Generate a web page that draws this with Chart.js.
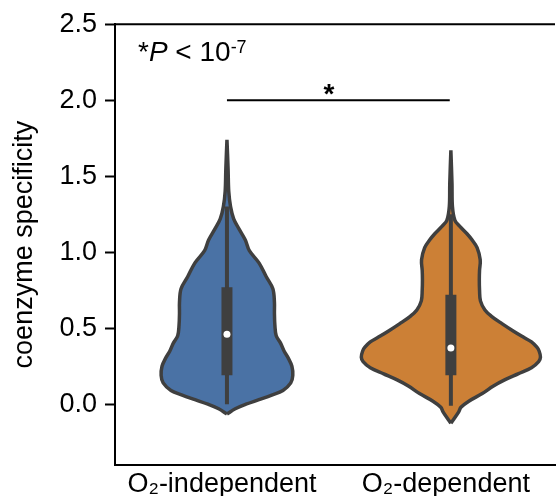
<!DOCTYPE html>
<html><head><meta charset="utf-8">
<script src="https://cdn.jsdelivr.net/npm/chart.js@4.4.0/dist/chart.umd.min.js"></script>
<style>html,body{margin:0;padding:0;background:#fff;overflow:hidden}#wrap{width:559px;height:496px;position:relative}</style>
</head><body><div id="wrap"><canvas id="c" width="559" height="496"></canvas></div>
<script>
// ---- data ----
const categories = ['O\u2082-independent', 'O\u2082-dependent'];
const yTickValues = [0.0, 0.5, 1.0, 1.5, 2.0, 2.5];

// violin outline: value levels and half-widths (in category units)
const indepLevels     = [-0.065, -0.03, 0.00, 0.03, 0.06, 0.09, 0.14, 0.19, 0.25, 0.30, 0.35, 0.40, 0.45, 0.52, 0.60, 0.67, 0.76, 0.84, 0.93, 1.01, 1.08, 1.15, 1.22, 1.30, 1.40, 1.55, 1.74];
const indepHalfWidths = [0.000, 0.037, 0.085, 0.143, 0.200, 0.250, 0.285, 0.294, 0.290, 0.275, 0.255, 0.240, 0.220, 0.214, 0.212, 0.212, 0.205, 0.175, 0.143, 0.100, 0.082, 0.055, 0.030, 0.016, 0.008, 0.005, 0.000];

const depLevels     = [-0.125, -0.10, -0.05, -0.02, 0.02, 0.07, 0.12, 0.16, 0.20, 0.24, 0.28, 0.31, 0.35, 0.375, 0.41, 0.44, 0.48, 0.53, 0.58, 0.62, 0.68, 0.75, 0.82, 0.88, 0.95, 1.03, 1.08, 1.12, 1.17, 1.21, 1.30, 1.45, 1.67];
const depHalfWidths = [0.000, 0.012, 0.035, 0.045, 0.080, 0.140, 0.190, 0.240, 0.300, 0.360, 0.392, 0.400, 0.394, 0.384, 0.360, 0.325, 0.280, 0.228, 0.180, 0.152, 0.132, 0.128, 0.127, 0.128, 0.131, 0.117, 0.095, 0.073, 0.040, 0.018, 0.007, 0.005, 0.000];

// inner box stats: [whisker low, Q1, median, Q3, whisker high]
const indepBox = [0.00, 0.19, 0.46, 0.77, 1.30];
const depBox   = [-0.01, 0.19, 0.37, 0.72, 1.25];

// significance bracket
const sigFrom = 0, sigTo = 0.995, sigLevel = 2.0, sigStarX = 0.455;

// ---- helpers ----
function outline(center, levels, widths) {
  const pts = [];
  for (let i = 0; i < levels.length; i++) pts.push({x: center - widths[i], y: levels[i]});
  for (let i = levels.length - 1; i >= 0; i--) pts.push({x: center + widths[i], y: levels[i]});
  return pts;
}
const EDGE = '#3f3f3f';
const BLUE = '#4a72a5';
const ORANGE = '#cc8036';
const FONT = '"Liberation Sans", Arial, Helvetica, sans-serif';

function violinSet(center, levels, widths, color) {
  return {data: outline(center, levels, widths), showLine: true, fill: 'shape',
    backgroundColor: color, borderColor: EDGE, borderWidth: 3.5, tension: 0.35,
    pointRadius: 0, order: 5};
}
function whiskerSet(center, b) {
  return {data: [{x: center, y: b[0]}, {x: center, y: b[4]}], showLine: true,
    borderColor: EDGE, borderWidth: 4, pointRadius: 0, order: 4, borderCapStyle: 'butt'};
}
function boxSet(center, b) {
  return {data: [{x: center, y: b[1]}, {x: center, y: b[3]}], showLine: true,
    borderColor: EDGE, borderWidth: 11, pointRadius: 0, order: 3, borderCapStyle: 'butt'};
}
function medianSet(center, b) {
  return {data: [{x: center, y: b[2]}], showLine: false, pointRadius: 3.5,
    pointBackgroundColor: '#ffffff', pointBorderWidth: 0, pointBorderColor: '#ffffff', order: 1};
}

const framePlugin = {
  id: 'frame',
  afterDraw(chart) {
    const {ctx, chartArea: a, scales} = chart;
    ctx.save();
    ctx.strokeStyle = '#000'; ctx.lineWidth = 2;
    ctx.beginPath(); ctx.moveTo(a.left - 1, a.top); ctx.lineTo(a.right, a.top); ctx.stroke();
    // annotation text
    ctx.fillStyle = '#000';
    ctx.textBaseline = 'alphabetic';
    let x = a.left + 23; const base = a.top + 37;
    ctx.font = '28px ' + FONT; ctx.fillText('*', x, base); x += ctx.measureText('*').width;
    ctx.font = 'italic 28px ' + FONT; ctx.fillText('P', x, base); x += ctx.measureText('P').width;
    ctx.font = '28px ' + FONT; ctx.fillText(' < 10', x, base); x += ctx.measureText(' < 10').width;
    ctx.font = '18px ' + FONT; ctx.fillText('-7', x, base - 8);
    // significance star
    ctx.font = 'bold 28px ' + FONT; ctx.textAlign = 'center';
    ctx.fillText('*', scales.x.getPixelForValue(sigStarX), scales.y.getPixelForValue(sigLevel) + 3);
    ctx.restore();
  }
};

new Chart(document.getElementById('c'), {
  type: 'scatter',
  data: {datasets: [
    medianSet(0, indepBox), medianSet(1, depBox),
    boxSet(0, indepBox), boxSet(1, depBox),
    whiskerSet(0, indepBox), whiskerSet(1, depBox),
    violinSet(0, indepLevels, indepHalfWidths, BLUE),
    violinSet(1, depLevels, depHalfWidths, ORANGE),
    {data: [{x: sigFrom, y: sigLevel}, {x: sigTo, y: sigLevel}], showLine: true,
      borderColor: '#000', borderWidth: 2, pointRadius: 0, order: 1}
  ]},
  options: {
    responsive: false, animation: false, devicePixelRatio: 1,
    layout: {padding: {top: 24, right: 0, bottom: 0, left: 0}},
    plugins: {legend: {display: false}, tooltip: {enabled: false}},
    scales: {
      x: {type: 'linear', min: -0.5, max: 1.465,
        afterBuildTicks: s => { s.ticks = [0, 1].map(v => ({value: v})); },
        afterFit: s => { s.height = 31; },
        grid: {display: false, drawTicks: false},
        border: {display: true, color: '#000', width: 2},
        ticks: {color: '#000', padding: 3, maxRotation: 0, autoSkip: false, labelOffset: -5,
          font: {family: FONT, size: 27}, callback: v => categories[v]}
      },
      y: {min: -0.4, max: 2.5,
        afterBuildTicks: s => { s.ticks = yTickValues.map(v => ({value: v})); },
        afterFit: s => { s.width = 115; },
        grid: {drawOnChartArea: false, drawTicks: true, tickLength: 10, tickWidth: 2, tickColor: '#000'},
        border: {display: true, color: '#000', width: 2},
        ticks: {color: '#000', padding: 8, font: {family: FONT, size: 27},
          callback: v => v.toFixed(1)},
        title: {display: true, text: 'coenzyme specificity', color: '#000',
          font: {family: FONT, size: 27}, padding: {top: 8, bottom: 0}}
      }
    }
  },
  plugins: [framePlugin]
});
</script></body></html>
